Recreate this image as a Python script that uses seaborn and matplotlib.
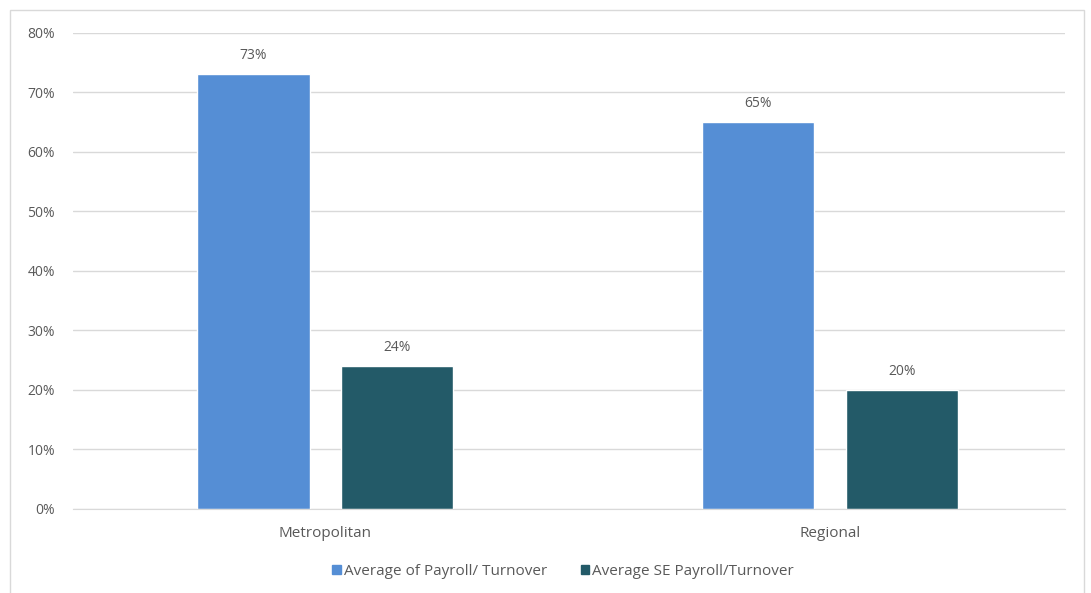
import matplotlib.pyplot as plt
import matplotlib.patches as mpatches
import numpy as np
import pandas as pd
import seaborn as sns

regions = ['Metropolitan', 'Regional']
series = ['Average of Payroll/ Turnover', 'Average SE Payroll/Turnover']
payroll_turnover = [0.73, 0.65]
se_payroll_turnover = [0.24, 0.20]
colors = ['#558ED5', '#235A68']

df = pd.DataFrame({
    'region': regions * 2,
    'series': [series[0]] * 2 + [series[1]] * 2,
    'value': payroll_turnover + se_payroll_turnover,
})

sns.set_style('white')
plt.rcParams['font.family'] = ['Open Sans', 'DejaVu Sans']
text_col = '#595959'

fig = plt.figure(figsize=(10.91, 5.93), dpi=100)
ax = fig.add_axes([0.067, 0.142, 0.909, 0.803])

sns.barplot(data=df, x='region', y='value', hue='series', order=regions,
            hue_order=series, palette=colors, width=0.57, gap=0.22,
            saturation=1, errorbar=None, ax=ax)

# value labels above bars
for cont in ax.containers:
    ax.bar_label(cont, labels=[f'{v*100:.0f}%' for v in cont.datavalues],
                 padding=8, fontsize=10, color=text_col)

ax.set_ylim(0, 0.8)
ax.set_yticks(np.arange(0, 0.81, 0.1))
ax.set_yticklabels([f'{int(round(t*100))}%' for t in np.arange(0, 0.81, 0.1)])
ax.set_xlim(-0.5, 1.465)
ax.grid(axis='y', color='#d9d9d9', linewidth=1)
ax.set_axisbelow(True)
for s in ['top', 'right', 'left']:
    ax.spines[s].set_visible(False)
ax.spines['bottom'].set_color('#d9d9d9')
ax.tick_params(axis='both', length=0, colors=text_col)
ax.tick_params(axis='y', pad=13, labelsize=10)
ax.tick_params(axis='x', pad=12.5, labelsize=11)
ax.set_xlabel('')
ax.set_ylabel('')

handles = [mpatches.Patch(color=c, label=l) for c, l in zip(colors, series)]
ax.get_legend().remove()
fig.legend(handles=handles, loc='center', bbox_to_anchor=(0.516, 0.036), ncol=2,
           frameon=False, fontsize=11, labelcolor=text_col, handlelength=0.55,
           handleheight=0.55, handletextpad=0.2, columnspacing=2.2)

# faint chart-area border
fig.patches.append(mpatches.Rectangle((0.009, -0.01), 0.985, 0.993, transform=fig.transFigure,
                                      fill=False, edgecolor='#d9d9d9', linewidth=1))

fig.savefig('out.png', dpi=100)
